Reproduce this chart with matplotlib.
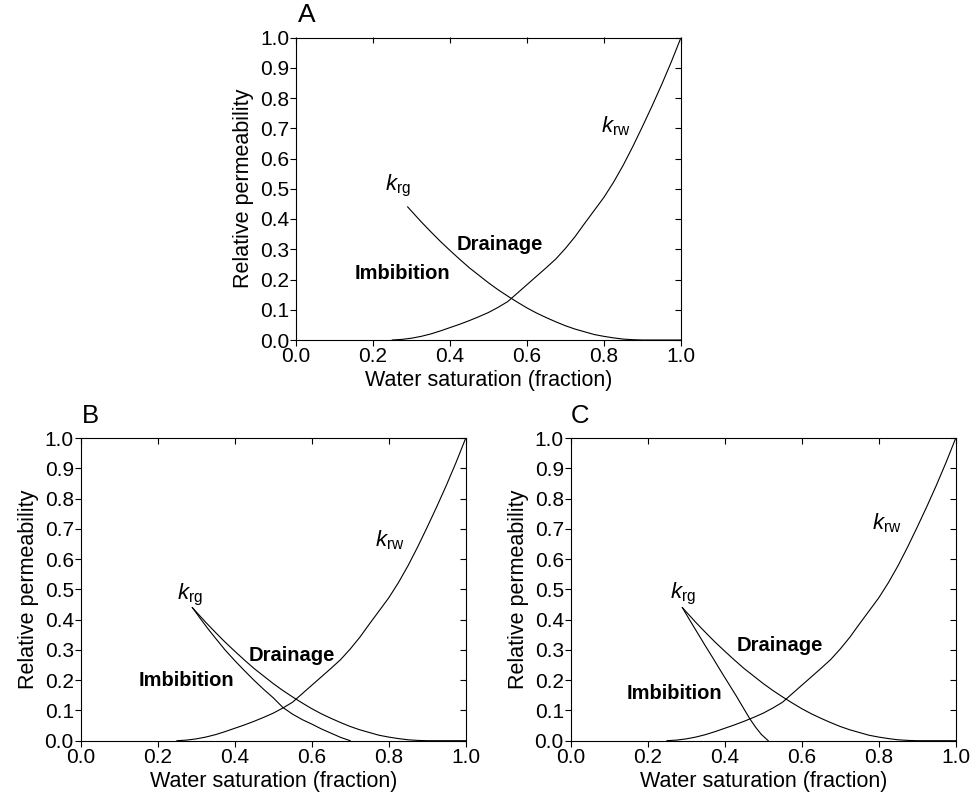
import numpy as np
import matplotlib.pyplot as plt

plt.rcParams['font.family'] = ['Liberation Sans', 'DejaVu Sans']
plt.rcParams['mathtext.fontset'] = 'custom'
plt.rcParams['mathtext.rm'] = 'Liberation Sans'
plt.rcParams['mathtext.it'] = 'Liberation Sans:italic'

# krw (water), same in all panels
sw_w = [0.25, 0.275, 0.30, 0.325, 0.35, 0.375, 0.40, 0.425, 0.45, 0.475, 0.50, 0.525,
        0.55, 0.575, 0.60, 0.625, 0.65, 0.675, 0.70, 0.725, 0.75, 0.775, 0.80, 0.825,
        0.85, 0.875, 0.90, 0.925, 0.95, 0.975, 1.00]
krw = [0.0, 0.002, 0.006, 0.012, 0.020, 0.030, 0.041, 0.052, 0.064, 0.077, 0.091, 0.108,
       0.127, 0.155, 0.183, 0.211, 0.239, 0.268, 0.303, 0.342, 0.386, 0.429, 0.472, 0.522,
       0.578, 0.640, 0.706, 0.774, 0.845, 0.920, 1.0]

# krg drainage, same in all panels
sw_dr = [0.29, 0.30, 0.325, 0.35, 0.375, 0.40, 0.425, 0.45, 0.475, 0.50, 0.525, 0.55,
         0.575, 0.60, 0.625, 0.65, 0.675, 0.70, 0.725, 0.75, 0.775, 0.80, 0.825, 0.85,
         0.875, 0.90, 1.00]
krg_dr = [0.44, 0.426, 0.391, 0.358, 0.326, 0.296, 0.267, 0.239, 0.214, 0.189, 0.166, 0.145,
          0.125, 0.106, 0.089, 0.074, 0.060, 0.047, 0.036, 0.027, 0.018, 0.012, 0.007, 0.003,
          0.001, 0.0, 0.0]

# krg imbibition, panel B
sw_imb_b = [0.29, 0.31, 0.33, 0.35, 0.375, 0.40, 0.425, 0.45, 0.475, 0.50, 0.525, 0.55,
            0.575, 0.60, 0.625, 0.65, 0.675, 0.70]
krg_imb_b = [0.44, 0.405, 0.371, 0.339, 0.300, 0.265, 0.232, 0.200, 0.170, 0.142, 0.110, 0.088,
             0.070, 0.055, 0.039, 0.025, 0.011, 0.0]

# krg imbibition, panel C
sw_imb_c = [0.29, 0.31, 0.33, 0.35, 0.37, 0.39, 0.41, 0.43, 0.45, 0.465, 0.48, 0.495, 0.513]
krg_imb_c = [0.44, 0.397, 0.355, 0.313, 0.272, 0.230, 0.189, 0.148, 0.105, 0.073, 0.045, 0.021, 0.0]

x_ticks = [0.0, 0.2, 0.4, 0.6, 0.8, 1.0]
y_ticks = [0.0, 0.1, 0.2, 0.3, 0.4, 0.5, 0.6, 0.7, 0.8, 0.9, 1.0]

fig = plt.figure(figsize=(9.79, 8.01), dpi=100)

W, H = 385 / 979, 302.5 / 801
ax_a = fig.add_axes([296 / 979, (801 - 340) / 801, W, H])
ax_b = fig.add_axes([80.7 / 979, (801 - 740.7) / 801, W, H])
ax_c = fig.add_axes([570.7 / 979, (801 - 740.7) / 801, W, H])

panels = [
    (ax_a, None, None, (0.53, 0.317), (0.277, 0.221), (0.265, 0.508), (0.83, 0.707)),
    (ax_b, sw_imb_b, krg_imb_b, (0.548, 0.282), (0.275, 0.199), (0.284, 0.483), (0.803, 0.662)),
    (ax_c, sw_imb_c, krg_imb_c, (0.543, 0.315), (0.27, 0.157), (0.291, 0.486), (0.822, 0.718)),
]

lw = 0.8
for ax, sw_i, kr_i, p_dr, p_im, p_rg, p_rw in panels:
    ax.plot(sw_w, krw, color='black', lw=lw)
    ax.plot(sw_dr, krg_dr, color='black', lw=lw)
    if sw_i is not None:
        ax.plot(sw_i, kr_i, color='black', lw=lw)
    ax.set_xlim(0, 1)
    ax.set_ylim(0, 1)
    ax.set_xticks(x_ticks)
    ax.set_yticks(y_ticks)
    ax.set_xticklabels([f'{v:.1f}' for v in x_ticks])
    ax.set_yticklabels([f'{v:.1f}' for v in y_ticks])
    ax.tick_params(direction='out', length=4, width=0.8, labelsize=15, pad=1)
    for s in ax.spines.values():
        s.set_linewidth(0.8)
    # inward ticks on top and right
    top = ax.secondary_xaxis('top')
    top.set_xticks(x_ticks)
    top.tick_params(direction='in', length=4, width=0.8, labeltop=False)
    right = ax.secondary_yaxis('right')
    right.set_yticks(y_ticks)
    right.tick_params(direction='in', length=4, width=0.8, labelright=False)
    for sec in (top, right):
        for s in sec.spines.values():
            s.set_visible(False)
    ax.set_xlabel('Water saturation (fraction)', fontsize=15.5, labelpad=3)
    ax.set_ylabel('Relative permeability', fontsize=15.5, labelpad=4)
    ax.text(*p_dr, 'Drainage', fontsize=14.5, fontweight='bold', ha='center', va='center')
    ax.text(*p_im, 'Imbibition', fontsize=14.5, fontweight='bold', ha='center', va='center')
    ax.text(*p_rg, r'$k_{\mathrm{rg}}$', fontsize=16, ha='center', va='center')
    ax.text(*p_rw, r'$k_{\mathrm{rw}}$', fontsize=16, ha='center', va='center')

fig.text(306.7 / 979, 1 - 15 / 801, 'A', fontsize=19, ha='center', va='center')
fig.text(90 / 979, 1 - 415.7 / 801, 'B', fontsize=18.5, ha='center', va='center')
fig.text(580 / 979, 1 - 416 / 801, 'C', fontsize=18.5, ha='center', va='center')

fig.savefig('out.png', dpi=100)
